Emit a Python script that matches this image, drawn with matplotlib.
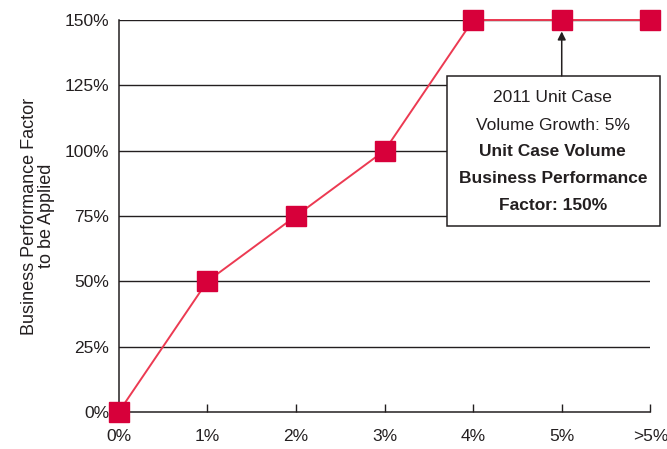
import matplotlib
matplotlib.use("Agg")
import matplotlib.pyplot as plt
from matplotlib.patches import Rectangle

# Data
growth_labels = ["0%", "1%", "2%", "3%", "4%", "5%", ">5%"]
factor_values = [0, 50, 75, 100, 150, 150, 150]
y_ticks = [0, 25, 50, 75, 100, 125, 150]
y_tick_labels = ["0%", "25%", "50%", "75%", "100%", "125%", "150%"]
note_lines = ["2011 Unit Case", "Volume Growth: 5%",
              "Unit Case Volume", "Business Performance", "Factor: 150%"]
note_bold = [False, False, True, True, True]

plt.rcParams["font.family"] = ["Liberation Sans", "DejaVu Sans"]
text_color = "#231f20"

fig = plt.figure(figsize=(6.67, 4.49), dpi=100)
ax = fig.add_axes([0.178, 0.0824, 0.797, 0.8731])

xs = list(range(len(growth_labels)))
ax.plot(xs, factor_values, color="#ec3a52", lw=1.4, zorder=3, clip_on=False)
ax.plot(xs, factor_values, ls="none", marker="s", ms=14, color="#d7003a",
        zorder=4, clip_on=False)

ax.set_xlim(0, 6)
ax.set_ylim(0, 150)
ax.set_xticks(xs)
ax.set_xticklabels(growth_labels, fontsize=12.5, color=text_color)
ax.set_yticks(y_ticks)
ax.set_yticklabels(y_tick_labels, fontsize=12.5, color=text_color)
ax.tick_params(axis="x", direction="in", length=6, width=1, pad=12, color=text_color)
ax.tick_params(axis="y", length=0, pad=7)

for y in y_ticks[1:]:
    ax.axhline(y, color=text_color, lw=1, zorder=1)
for s in ["top", "right"]:
    ax.spines[s].set_visible(False)
for s in ["left", "bottom"]:
    ax.spines[s].set_color(text_color)
    ax.spines[s].set_linewidth(1.1)

ax.set_ylabel("Business Performance Factor\nto be Applied", fontsize=13,
              color=text_color, labelpad=7, linespacing=1.0)

# annotation box
box = Rectangle((3.71, 71.2), 2.40, 57.4, facecolor="white", edgecolor=text_color,
                lw=1.1, zorder=5, clip_on=False)
ax.add_patch(box)
line_y = [120.2, 109.8, 99.5, 89.5, 79.2]
for txt, yy, b in zip(note_lines, line_y, note_bold):
    ax.text(4.90, yy, txt, ha="center", va="center", fontsize=12.5,
            fontweight="bold" if b else "normal", color=text_color, zorder=6)
ax.annotate("", xy=(5, 145.6), xytext=(5, 128.6),
            arrowprops=dict(arrowstyle="-|>", color=text_color, lw=1.1,
                            shrinkA=0, shrinkB=0, mutation_scale=12), zorder=6)

fig.savefig("out.png", dpi=100)
